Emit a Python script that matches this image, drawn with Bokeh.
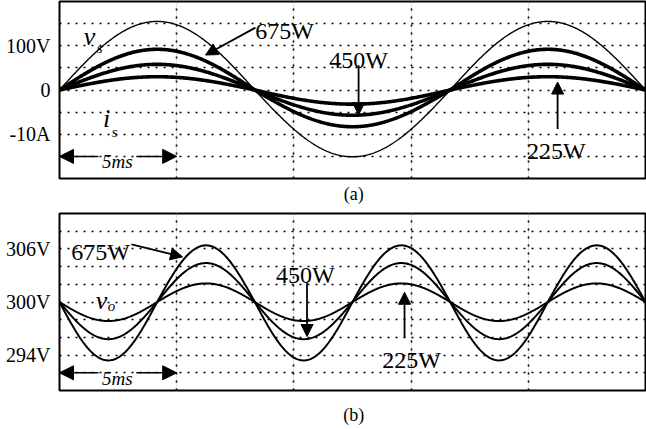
import numpy as np
from bokeh.plotting import figure
from bokeh.models import Range1d, FixedTicker, Grid, Label, Arrow, NormalHead
from bokeh.layouts import column
from bokeh.embed import file_html
from bokeh.resources import INLINE

# ---------------- data ----------------
time_span_ms = 25.0            # 5 ms per division, 5 divisions
line_freq_hz = 60.0
loads = ["675W", "450W", "225W"]
vs_peak_pos = 155.0            # V, positive half-cycle
vs_peak_neg = 151.0            # V, negative half-cycle
is_peak_pos = [9.2, 5.8, 3.0]  # A, per load
is_peak_neg = [8.3, 5.7, 3.2]
vo_dc = 300.0                  # V
vo_ripple_pos = [6.4, 4.4, 2.1]
vo_ripple_neg = [6.6, 4.2, 2.15]
a_ticks = [100, 0, -100]
a_tick_labels = ["100V", "0", "-10A"]
b_ticks = [306, 300, 294]
b_tick_labels = ["306V", "300V", "294V"]
grid_ms = [5, 10, 15, 20]
a_grid = [-150, -100, -50, 0, 50, 100, 150]
b_grid = [292, 294, 296, 298, 300, 302, 304, 306, 308]
captions = ["(a)", "(b)"]

SERIF = "Liberation Serif"
t = np.linspace(0, time_span_ms, 800)
ph1 = np.sin(2 * np.pi * line_freq_hz * t / 1000.0)
ph2 = np.sin(2 * np.pi * 2 * line_freq_hz * t / 1000.0)


def half(s, pos, neg):
    return np.where(s >= 0, pos * s, neg * s)


def base_fig(height, top, bottom, yr):
    p = figure(width=646, height=height, output_backend="svg", toolbar_location=None,
               x_range=Range1d(0, time_span_ms), y_range=yr, x_axis_location=None,
               min_border_left=59, min_border_right=1, min_border_top=top,
               min_border_bottom=bottom, background_fill_color="white",
               border_fill_color="white")
    p.outline_line_color = "black"
    p.outline_line_width = 2
    p.outline_line_alpha = 1
    ax = p.yaxis[0]
    ax.axis_line_color = None
    ax.major_tick_line_color = None
    ax.minor_tick_line_color = None
    ax.major_tick_out = 0
    ax.major_tick_in = 0
    ax.major_label_standoff = 9
    ax.major_label_text_font = SERIF
    ax.major_label_text_font_size = "20px"
    ax.major_label_text_color = "black"
    p.ygrid.grid_line_color = "black"
    p.ygrid.grid_line_width = 1.6
    p.ygrid.grid_line_dash = "2 6"
    p.ygrid.grid_line_alpha = 1
    xg = Grid(dimension=0, ticker=FixedTicker(ticks=grid_ms), grid_line_color="black",
              grid_line_width=1.6, grid_line_dash="2 6")
    p.add_layout(xg)
    return p


def caption_fig(height, text, baseline_from_top):
    p = figure(width=646, height=height, output_backend="svg", toolbar_location=None,
               x_range=Range1d(0, time_span_ms), y_range=Range1d(0, height),
               x_axis_location=None, y_axis_location=None,
               min_border_left=59, min_border_right=1, min_border_top=0,
               min_border_bottom=0, background_fill_color="white",
               border_fill_color="white", outline_line_color=None)
    p.grid.visible = False
    p.add_layout(Label(x=12.55, y=height - baseline_from_top, text=text, text_font=SERIF,
                       text_font_size="18px", text_align="center",
                       text_baseline="alphabetic", text_color="black"))
    return p


def label(p, x, y, text, size, style="normal"):
    p.add_layout(Label(x=x, y=y, text=text, text_font=SERIF, text_font_size=size,
                       text_font_style=style, text_align="center",
                       text_baseline="alphabetic", text_color="black"))


def arrow(p, x0, y0, x1, y1, size=12, width=1.8):
    p.add_layout(Arrow(x_start=x0, y_start=y0, x_end=x1, y_end=y1, line_width=width,
                       line_color="black",
                       end=NormalHead(size=size, fill_color="black", line_color="black",
                                      line_width=1)))


# ---------------- panel (a) ----------------
pa = base_fig(180, 1, 2, Range1d(-200, 200))
pa.extra_y_ranges = {"amps": Range1d(-20, 20)}
pa.yaxis[0].ticker = FixedTicker(ticks=a_ticks)
pa.yaxis[0].major_label_overrides = dict(zip(a_ticks, a_tick_labels))
pa.ygrid.ticker = FixedTicker(ticks=a_grid)

pa.line(t, half(ph1, vs_peak_pos, vs_peak_neg), line_color="black", line_width=1.4)
for i in range(len(loads)):
    pa.line(t, half(ph1, is_peak_pos[i], is_peak_neg[i]), y_range_name="amps",
            line_color="black", line_width=3.6)

label(pa, 9.60, 134, loads[0], "24px")
arrow(pa, 8.36, 141, 6.23, 79)
label(pa, 12.76, 67, loads[1], "24px")
arrow(pa, 12.76, 56, 12.76, -56)
label(pa, 21.20, -137, loads[2], "24px")
arrow(pa, 21.25, -88, 21.25, 18)
label(pa, 1.28, 121, "v", "26px", "italic")
label(pa, 1.71, 94, "s", "15px", "italic")
label(pa, 2.01, -65, "i", "26px", "italic")
label(pa, 2.35, -95, "s", "15px", "italic")
label(pa, 2.47, -162, "5ms", "19px", "italic")
arrow(pa, 1.66, -150, 0.0, -150, size=14, width=1.5)
arrow(pa, 3.28, -150, 5.0, -150, size=14, width=1.5)

ca = caption_fig(26, captions[0], 13)

# ---------------- panel (b) ----------------
pb = base_fig(188, 7, 4, Range1d(290, 310))
pb.yaxis[0].ticker = FixedTicker(ticks=b_ticks)
pb.yaxis[0].major_label_overrides = dict(zip(b_ticks, b_tick_labels))
pb.ygrid.ticker = FixedTicker(ticks=b_grid)

for i in range(len(loads)):
    pb.line(t, vo_dc - half(ph2, vo_ripple_neg[i], vo_ripple_pos[i]),
            line_color="black", line_width=2.0)

label(pb, 1.75, 305.7, loads[0], "24px")
arrow(pb, 3.07, 306.5, 5.25, 305.1)
label(pb, 10.49, 303.0, loads[1], "24px")
arrow(pb, 10.56, 302.3, 10.56, 296.1)
label(pb, 15.02, 293.4, loads[2], "24px")
arrow(pb, 14.72, 296.0, 14.72, 301.1)
label(pb, 1.79, 300.2, "v", "26px", "italic")
label(pb, 2.22, 299.5, "o", "15px", "italic")
label(pb, 2.47, 291.4, "5ms", "19px", "italic")
arrow(pb, 1.66, 292, 0.0, 292, size=14, width=1.5)
arrow(pb, 3.28, 292, 5.0, 292, size=14, width=1.5)

cb = caption_fig(35, captions[1], 20)

layout = column(pa, ca, pb, cb, spacing=0, margin=(0, 0, 0, 0))
open("out.html", "w").write(file_html(layout, INLINE))
